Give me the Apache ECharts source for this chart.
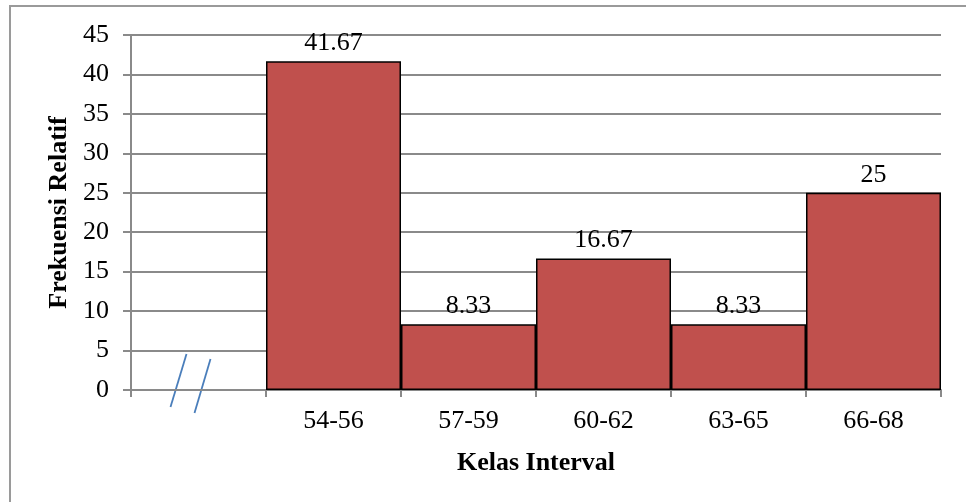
<!DOCTYPE html>
<html>
<head>
<meta charset="utf-8">
<script src="https://cdn.jsdelivr.net/npm/echarts@6/dist/echarts.min.js"></script>
<style>
  html, body { margin: 0; padding: 0; background: #fff; }
  #chart { width: 966px; height: 502px; }
</style>
</head>
<body>
<div id="chart"></div>
<script>
// Class intervals (first slot is left empty for the axis break)
const categories = ['', '54-56', '57-59', '60-62', '63-65', '66-68'];
// Relative frequency (%) per class
const relFreq = [null, 41.67, 8.33, 16.67, 8.33, 25];
const yTicks = { min: 0, max: 45, interval: 5 };

const FONT = '"Liberation Serif", "Times New Roman", serif';
const FONT_SIZE = 26;
const GRID_GRAY = '#8a8a8a';

const chart = echarts.init(document.getElementById('chart'));

const option = {
  animation: false,
  backgroundColor: '#fff',
  grid: { left: 131, right: 25, top: 35, bottom: 112, containLabel: false },
  xAxis: {
    type: 'category',
    data: categories,
    name: 'Kelas Interval',
    nameLocation: 'middle',
    nameGap: 60,
    nameTextStyle: { fontFamily: FONT, fontSize: FONT_SIZE, fontWeight: 'bold', color: '#000' },
    axisLine: { lineStyle: { color: GRID_GRAY, width: 2 } },
    axisTick: { show: true, length: 7, lineStyle: { color: GRID_GRAY, width: 2 } },
    axisLabel: { fontFamily: FONT, fontSize: FONT_SIZE, color: '#000', margin: 18 }
  },
  yAxis: {
    type: 'value',
    min: yTicks.min,
    max: yTicks.max,
    interval: yTicks.interval,
    name: 'Frekuensi Relatif',
    nameLocation: 'middle',
    nameGap: 57,
    nameRotate: 90,
    nameTextStyle: { fontFamily: FONT, fontSize: FONT_SIZE, fontWeight: 'bold', color: '#000' },
    axisLine: { show: true, lineStyle: { color: GRID_GRAY, width: 2 } },
    axisTick: { show: true, length: 8, lineStyle: { color: GRID_GRAY, width: 2 } },
    axisLabel: { fontFamily: FONT, fontSize: FONT_SIZE, color: '#000', margin: 22 },
    splitLine: { lineStyle: { color: GRID_GRAY, width: 2 } }
  },
  series: [{
    type: 'bar',
    data: relFreq,
    barCategoryGap: 0,
    itemStyle: { color: '#c0504d', borderColor: '#000', borderWidth: 1.5 },
    label: {
      show: true,
      position: 'top',
      distance: 5,
      fontFamily: FONT,
      fontSize: FONT_SIZE,
      color: '#000',
      formatter: p => String(p.value)
    }
  }]
};
chart.setOption(option);

// Outer chart frame and the axis-break marks in the empty first slot
const origin = chart.convertToPixel({ gridIndex: 0 }, [0, 0]);
const cx = origin[0] - 8;
const cy = origin[1];
chart.setOption({
  graphic: [
    {
      type: 'rect',
      shape: { x: 10, y: 6, width: 1200, height: 1200 },
      style: { fill: 'none', stroke: '#9a9a9a', lineWidth: 2 },
      silent: true
    },
    {
      type: 'line',
      shape: { x1: cx - 4, y1: cy - 36, x2: cx - 20, y2: cy + 17 },
      style: { stroke: '#4a7ebb', lineWidth: 1.8 },
      silent: true
    },
    {
      type: 'line',
      shape: { x1: cx + 20, y1: cy - 31, x2: cx + 4, y2: cy + 23 },
      style: { stroke: '#4a7ebb', lineWidth: 1.8 },
      silent: true
    }
  ]
});
</script>
</body>
</html>
